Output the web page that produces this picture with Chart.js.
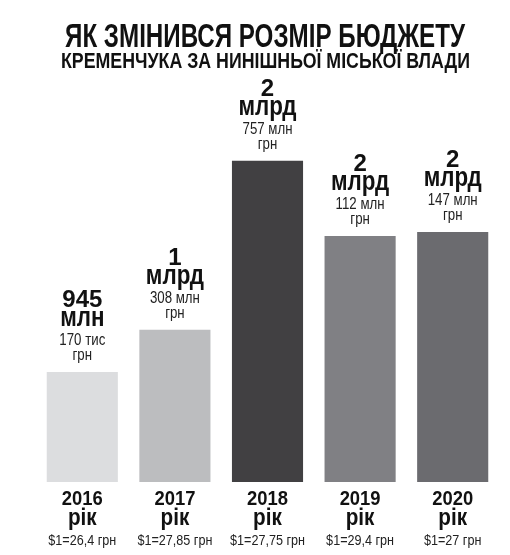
<!DOCTYPE html>
<html lang="uk">
<head>
  <meta charset="UTF-8">
  <title>Як змінився розмір бюджету Кременчука</title>
  <script src="https://cdn.jsdelivr.net/npm/chart.js"></script>
  <style>
    html, body { margin: 0; padding: 0; background: #fff; }
    #wrap { width: 510px; height: 555px; }
  </style>
</head>
<body>
<div id="wrap"><canvas id="chart-canvas"></canvas></div>

<script>
// дані
const years = ['2016', '2017', '2018', '2019', '2020'];
const budgetMln = [945.17, 1308, 2757, 2112, 2147];
const bigLabels = [['945', 'млн'], ['1', 'млрд'], ['2', 'млрд'], ['2', 'млрд'], ['2', 'млрд']];
const smallLabels = [['170 тис', 'грн'], ['308 млн', 'грн'], ['757 млн', 'грн'], ['112 млн', 'грн'], ['147 млн', 'грн']];
const rates = ['$1=26,4 грн', '$1=27,85 грн', '$1=27,75 грн', '$1=29,4 грн', '$1=27 грн'];
const barColors = ['#dcdddf', '#bcbdbf', '#414042', '#808084', '#6b6b6f'];

const FONT = '"Liberation Sans", Arial, sans-serif';

// текст зі стисненням по горизонталі
function txt(ctx, s, x, y, font, sx, color) {
  ctx.save();
  ctx.font = font;
  ctx.fillStyle = color;
  ctx.textAlign = 'center';
  ctx.textBaseline = 'alphabetic';
  ctx.translate(x, y);
  ctx.scale(sx, 1);
  ctx.fillText(s, 0, 0);
  ctx.restore();
}

function fitTxt(ctx, s, x, y, font, width, color) {
  ctx.save();
  ctx.font = font;
  const w = ctx.measureText(s).width;
  ctx.restore();
  txt(ctx, s, x, y, font, width / w, color);
}

const labelPlugin = {
  id: 'labels',
  afterDatasetsDraw(chart) {
    const ctx = chart.ctx;
    const meta = chart.getDatasetMeta(0);
    const xs = chart.scales.x;

    fitTxt(ctx, 'ЯК ЗМІНИВСЯ РОЗМІР БЮДЖЕТУ', 265, 47, 'bold 34px ' + FONT, 400, '#111');
    fitTxt(ctx, 'КРЕМЕНЧУКА ЗА НИНІШНЬОЇ МІСЬКОЇ ВЛАДИ', 265.5, 68, 'bold 22px ' + FONT, 409, '#111');

    meta.data.forEach((bar, i) => {
      const x = bar.x, top = bar.y;
      txt(ctx, bigLabels[i][0], x, top - 65, 'bold 24px ' + FONT, 1.0, '#111');
      txt(ctx, bigLabels[i][1], x, top - 46, 'bold 28px ' + FONT, 0.8, '#111');
      txt(ctx, smallLabels[i][0], x, top - 27, '17px ' + FONT, 0.78, '#222');
      txt(ctx, smallLabels[i][1], x, top - 12, '17px ' + FONT, 0.78, '#222');

      const cx = xs.getPixelForValue(i);
      txt(ctx, years[i], cx, 505, 'bold 20px ' + FONT, 0.92, '#111');
      txt(ctx, 'рік', cx, 525, 'bold 23px ' + FONT, 0.9, '#111');
      txt(ctx, rates[i], cx, 545, '14px ' + FONT, 0.9, '#222');
    });
  }
};

new Chart(document.getElementById('chart-canvas'), {
  type: 'bar',
  data: {
    labels: years,
    datasets: [{
      data: budgetMln,
      backgroundColor: barColors,
      borderWidth: 0,
      barPercentage: 0.768,
      categoryPercentage: 1.0
    }]
  },
  options: {
    responsive: true,
    maintainAspectRatio: false,
    animation: false,
    layout: { padding: { top: 90, bottom: 73, left: 36, right: 11 } },
    plugins: {
      legend: { display: false },
      title: { display: false },
      tooltip: { enabled: false }
    },
    scales: {
      x: { display: false },
      y: { display: false, min: 0, max: 3365 }
    }
  },
  plugins: [labelPlugin]
});
</script>
</body>
</html>
